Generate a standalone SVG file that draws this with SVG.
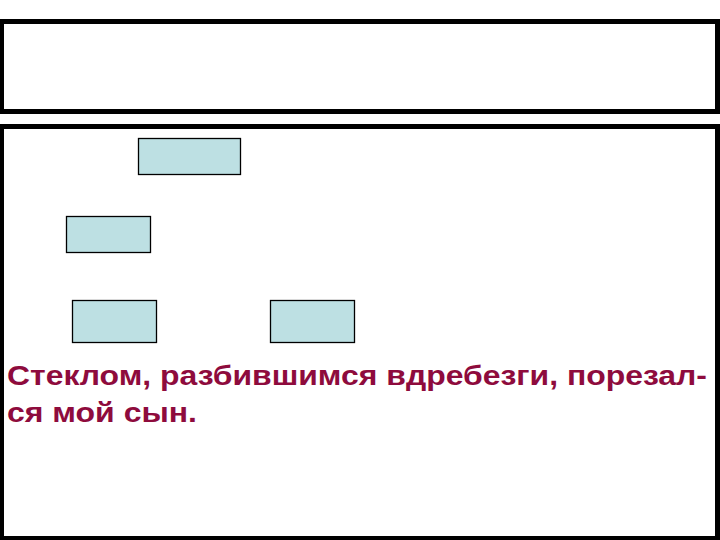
<svg xmlns="http://www.w3.org/2000/svg" width="720" height="540" viewBox="0 0 720 540">
<style>
.frame{fill:#ffffff;stroke:#000000;stroke-width:5}
.node{fill:#bde0e3;stroke:#000000;stroke-width:1.3}
.txt{font-family:"Liberation Sans",Arial,sans-serif;font-weight:bold;font-size:28px;fill:#8e0b3d}
</style>
<rect width="720" height="540" fill="#ffffff"/>
<g id="title-frame"><rect class="frame" x="1.5" y="21.5" width="716" height="90"/></g>
<g id="body-frame"><rect class="frame" x="1.5" y="126.5" width="716" height="412"/></g>
<g id="connectors"></g>
<g id="node-1"><rect class="node" x="138.5" y="138.5" width="102" height="36"/></g>
<g id="node-2"><rect class="node" x="66.5" y="216.5" width="84" height="36"/></g>
<g id="node-3"><rect class="node" x="72.5" y="300.5" width="84" height="42"/></g>
<g id="node-4"><rect class="node" x="270.5" y="300.5" width="84" height="42"/></g>
<g id="caption">
<text class="txt" x="7" y="385" textLength="700" lengthAdjust="spacingAndGlyphs">Стеклом, разбившимся вдребезги, порезал-</text>
<text class="txt" x="7" y="422" textLength="190" lengthAdjust="spacingAndGlyphs">ся мой сын.</text>
</g>
</svg>
